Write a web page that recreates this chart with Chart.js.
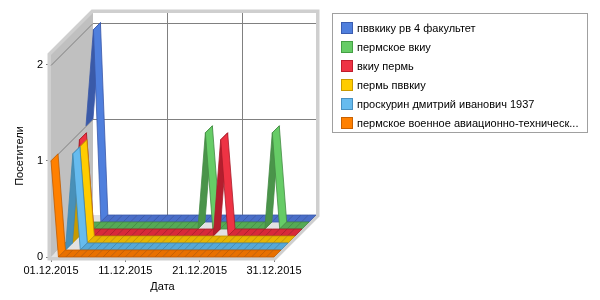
<!DOCTYPE html>
<html>
<head>
<meta charset="utf-8">
<script src="https://cdn.jsdelivr.net/npm/chart.js@4.4.1/dist/chart.umd.min.js"></script>
<style>
html,body{margin:0;padding:0;background:#ffffff;}
canvas{display:block;}
</style>
</head>
<body>
<canvas id="c" width="600" height="300"></canvas>
<script>
// ---------- data ----------
const categories = [
  '01.12.2015','02.12.2015','03.12.2015','04.12.2015','05.12.2015','06.12.2015','07.12.2015','08.12.2015','09.12.2015','10.12.2015',
  '11.12.2015','12.12.2015','13.12.2015','14.12.2015','15.12.2015','16.12.2015','17.12.2015','18.12.2015','19.12.2015','20.12.2015',
  '21.12.2015','22.12.2015','23.12.2015','24.12.2015','25.12.2015','26.12.2015','27.12.2015','28.12.2015','29.12.2015','30.12.2015',
  '31.12.2015'
];
const xTickLabels = ['01.12.2015','11.12.2015','21.12.2015','31.12.2015'];
const yTickValues = [0, 1, 2];
const seriesNames = [
  'пввкику рв 4 факультет',
  'пермское вкиу',
  'вкиу пермь',
  'пермь пввкиу',
  'проскурин дмитрий иванович 1937',
  'пермское военное авиационно-техническ...'
];
const seriesPvvkiku = [1,2,0,0,0,0,0,0,0,0, 0,0,0,0,0,0,0,0,0,0, 0,0,0,0,0,0,0,0,0,0, 0];
const seriesPermVkiu = [0,0,0,0,0,0,0,0,0,0, 0,0,0,0,0,0,0,1,0,0, 0,0,0,0,0,0,1,0,0,0, 0];
const seriesVkiuPerm = [0,1,0,0,0,0,0,0,0,0, 0,0,0,0,0,0,0,0,0,0, 1,0,0,0,0,0,0,0,0,0, 0];
const seriesPermPvvkiu = [0,0,1,0,0,0,0,0,0,0, 0,0,0,0,0,0,0,0,0,0, 0,0,0,0,0,0,0,0,0,0, 0];
const seriesProskurin = [0,0,1,0,0,0,0,0,0,0, 0,0,0,0,0,0,0,0,0,0, 0,0,0,0,0,0,0,0,0,0, 0];
const seriesVoennoe = [1,0,0,0,0,0,0,0,0,0, 0,0,0,0,0,0,0,0,0,0, 0,0,0,0,0,0,0,0,0,0, 0];
const seriesValues = [seriesPvvkiku, seriesPermVkiu, seriesVkiuPerm, seriesPermPvvkiu, seriesProskurin, seriesVoennoe];

// ---------- style ----------
const DEPTH = 42;
const palette = [
  {light:'#4f7fdd', flat:'#4a6ec8', dark:'#3a5aa8', edge:'#3a58a8', legend:'#4f7fdd', legendEdge:'#3a5cb0'},
  {light:'#66cc66', flat:'#55aa55', dark:'#4a944a', edge:'#448a44', legend:'#66cc66', legendEdge:'#44a044'},
  {light:'#ee3344', flat:'#d82a3a', dark:'#b41e2e', edge:'#a81c2a', legend:'#ee3344', legendEdge:'#c01c2c'},
  {light:'#ffcc00', flat:'#e8b400', dark:'#c89a00', edge:'#c09000', legend:'#ffcc00', legendEdge:'#c89a00'},
  {light:'#66bbee', flat:'#55a8d8', dark:'#4890b8', edge:'#4088b0', legend:'#66bbee', legendEdge:'#4890c0'},
  {light:'#ff8000', flat:'#e87000', dark:'#c86000', edge:'#c05c00', legend:'#ff8000', legendEdge:'#c86000'}
];
const FONT = "'Liberation Sans', Arial, sans-serif";

Chart.defaults.font.family = FONT;
Chart.defaults.font.size = 11;
Chart.defaults.color = '#000000';

const frame3d = {
  id: 'frame3d',
  beforeDatasetsDraw(chart) {
    const ctx = chart.ctx;
    const xs = chart.scales.x, ys = chart.scales.y;
    const x0 = xs.getPixelForValue(0), x1 = xs.getPixelForValue(categories.length - 1);
    const y0 = ys.getPixelForValue(0), yt = ys.top;
    const D = DEPTH;
    ctx.save();
    // outer bevel
    ctx.beginPath();
    ctx.moveTo(x0, y0); ctx.lineTo(x0, yt); ctx.lineTo(x0 + D, yt - D);
    ctx.lineTo(x1 + D, yt - D); ctx.lineTo(x1 + D, y0 - D); ctx.lineTo(x1, y0); ctx.closePath();
    ctx.lineJoin = 'miter';
    ctx.lineWidth = 7; ctx.strokeStyle = '#cfcfcf'; ctx.stroke();
    // back wall
    ctx.fillStyle = '#ffffff';
    ctx.fillRect(x0 + D, yt - D, x1 - x0, y0 - yt);
    // left wall
    ctx.beginPath();
    ctx.moveTo(x0, yt); ctx.lineTo(x0 + D, yt - D); ctx.lineTo(x0 + D, y0 - D); ctx.lineTo(x0, y0); ctx.closePath();
    ctx.fillStyle = '#c0c0c0'; ctx.fill();
    // floor
    ctx.beginPath();
    ctx.moveTo(x0, y0); ctx.lineTo(x1, y0); ctx.lineTo(x1 + D, y0 - D); ctx.lineTo(x0 + D, y0 - D); ctx.closePath();
    ctx.fillStyle = '#e2e2e2'; ctx.fill();
    // grid lines
    ctx.strokeStyle = '#808080'; ctx.lineWidth = 1;
    yTickValues.forEach(v => {
      if (v === 0) return;
      const py = Math.round(ys.getPixelForValue(v)) + 0.5;
      ctx.beginPath();
      ctx.moveTo(x0, py); ctx.lineTo(x0 + D, py - D); ctx.lineTo(x1 + D, py - D);
      ctx.stroke();
    });
    xTickLabels.forEach(l => {
      const idx = categories.indexOf(l);
      if (idx <= 0 || idx >= categories.length - 1) return;
      const px = Math.round(xs.getPixelForValue(idx)) + 0.5;
      ctx.beginPath();
      ctx.moveTo(px + D, yt - D); ctx.lineTo(px + D, y0 - D);
      ctx.stroke();
    });
    ctx.restore();
  },
  beforeDatasetDraw() { return false; },
  afterDatasetsDraw(chart) {
    const ctx = chart.ctx;
    const n = chart.data.datasets.length;
    const slot = DEPTH / n;
    ctx.save();
    ctx.lineJoin = 'round';
    chart.data.datasets.forEach((ds, i) => {
      const meta = chart.getDatasetMeta(i);
      const s = n - 1 - i;
      const f = s * slot, b = (s + 1) * slot;
      const pal = palette[i];
      const pts = meta.data;
      for (let j = 0; j < pts.length - 1; j++) {
        const p = pts[j], q = pts[j + 1];
        const dy = q.y - p.y;
        ctx.beginPath();
        ctx.moveTo(p.x + f, p.y - f); ctx.lineTo(q.x + f, q.y - f);
        ctx.lineTo(q.x + b, q.y - b); ctx.lineTo(p.x + b, p.y - b); ctx.closePath();
        ctx.fillStyle = dy < -0.5 ? pal.dark : (dy > 0.5 ? pal.light : pal.flat);
        ctx.fill();
        ctx.strokeStyle = pal.edge; ctx.lineWidth = 0.8; ctx.stroke();
      }
    });
    ctx.restore();
  },
  afterDraw(chart) {
    const ctx = chart.ctx;
    ctx.save();
    ctx.strokeStyle = '#a0a0a0'; ctx.lineWidth = 1;
    ctx.strokeRect(332.5, 13.5, 255, 119);
    ctx.font = '11px ' + FONT;
    ctx.textBaseline = 'alphabetic';
    ctx.fillStyle = '#000';
    chart.data.datasets.forEach((ds, i) => {
      const top = 22 + i * 19;
      ctx.fillStyle = palette[i].legend;
      ctx.fillRect(341, top, 12, 12);
      ctx.strokeStyle = palette[i].legendEdge;
      ctx.strokeRect(341.5, top + 0.5, 11, 11);
      ctx.fillStyle = '#000';
      ctx.fillText(ds.label, 357, top + 10);
    });
    ctx.restore();
  }
};

new Chart(document.getElementById('c'), {
  type: 'line',
  data: {
    labels: categories,
    datasets: seriesNames.map((name, i) => ({
      label: name,
      data: seriesValues[i],
      borderColor: palette[i].light,
      backgroundColor: palette[i].light,
      pointRadius: 0
    }))
  },
  options: {
    responsive: false,
    animation: false,
    devicePixelRatio: 1,
    layout: { padding: { left: 7, right: 326, top: 55, bottom: 0 } },
    plugins: { legend: { display: false }, tooltip: { enabled: false } },
    scales: {
      x: {
        type: 'category',
        offset: false,
        grid: { display: true, drawOnChartArea: false, drawTicks: true, tickLength: 5, color: '#808080' },
        border: { display: false },
        ticks: { autoSkip: false, maxRotation: 0, minRotation: 0, padding: 2, color: '#000' },
        afterBuildTicks: s => { s.ticks = xTickLabels.map(l => ({ value: categories.indexOf(l) })); },
        afterFit: s => { s.height = 43; },
        title: { display: true, text: 'Дата', color: '#000', font: { size: 11 }, padding: { top: 0, bottom: 6 } }
      },
      y: {
        min: 0, max: 2.1,
        grid: { display: true, drawOnChartArea: false, drawTicks: true, tickLength: 5, color: '#808080' },
        border: { display: false },
        ticks: { padding: 3, color: '#000' },
        afterBuildTicks: s => { s.ticks = yTickValues.map(v => ({ value: v })); },
        afterFit: s => { s.width = 44; },
        title: { display: true, text: 'Посетители', color: '#000', font: { size: 11 }, padding: { top: 6, bottom: 0 } }
      }
    }
  },
  plugins: [frame3d]
});
</script>
</body>
</html>
